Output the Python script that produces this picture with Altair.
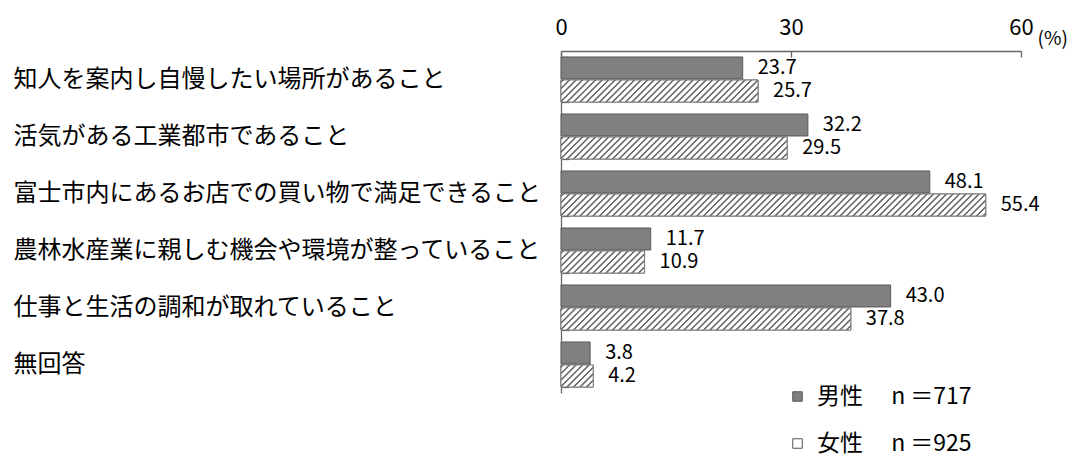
import altair as alt
import pandas as pd

# ---- data ----
categories = [
    "知人を案内し自慢したい場所があること",
    "活気がある工業都市であること",
    "富士市内にあるお店での買い物で満足できること",
    "農林水産業に親しむ機会や環境が整っていること",
    "仕事と生活の調和が取れていること",
    "無回答",
]
male = [23.7, 32.2, 48.1, 11.7, 43.0, 3.8]
female = [25.7, 29.5, 55.4, 10.9, 37.8, 4.2]
series = ["男性", "女性"]
sample_n = [717, 925]
x_ticks = [0, 30, 60]

rows = []
for c, m, f in zip(categories, male, female):
    rows.append({"cat": c, "series": series[0], "value": m})
    rows.append({"cat": c, "series": series[1], "value": f})
df = pd.DataFrame(rows)

# ---- style ----
FONT = "Noto Sans CJK JP"
W, H = 460, 342
X_MAX = 60
PX_PER_UNIT = W / X_MAX
BAR_H = 22.0


def hatch(w, h, period=6.5, line="#6e6e6e", bg="#ffffff"):
    """Diagonal '///' stripes as a linear gradient over a bar of w x h px."""
    S = w + h
    k = S / (w * w + h * h)
    stops = [alt.GradientStop(offset=0, color=bg)]
    c = 2.0
    while c + 1.6 < S:
        for d, col in ((-1.6, bg), (-0.7, line), (0.7, line), (1.6, bg)):
            stops.append(alt.GradientStop(offset=(c + d) / S, color=col))
        c += period
    stops.append(alt.GradientStop(offset=1, color=bg))
    return alt.LinearGradient(gradient="linear", x1=0, y1=0, x2=w * k, y2=h * k, stops=stops)


y_axis = alt.Axis(
    title=None, labelAlign="left", labelBaseline="middle", labelPadding=556,
    labelFontSize=24, labelFont=FONT, labelColor="black", labelLimit=700,
    tickBand="extent", tickSize={"expr": "-8"}, domainColor="#666666",
    tickColor="#666666", domainWidth=1.3, tickWidth=1.3,
)
x_axis = alt.Axis(
    orient="top", values=x_ticks, grid=False, title="(%)", titleX=476, titleY=-13,
    titleAlign="left", titleBaseline="middle", titleAngle=0, titleFontSize=19,
    titleFontWeight="normal", titleFont=FONT, titleColor="black", titleLimit=100,
    labelFontSize=22, labelFont=FONT, labelColor="black", labelPadding=18,
    labelFlush=False, tickSize={"expr": "-6"}, domainColor="#666666",
    tickColor="#666666", domainWidth=1.3, tickWidth=1.3,
)

x_enc = alt.X("value:Q", scale=alt.Scale(domain=[0, X_MAX], nice=False, zero=True), axis=x_axis)
y_enc = alt.Y("cat:N", sort=categories,
              scale=alt.Scale(domain=categories, paddingInner=0.21, paddingOuter=0.105),
              axis=y_axis)
yoff = alt.YOffset("series:N", sort=series,
                   scale=alt.Scale(domain=series, paddingInner=0.045, paddingOuter=0))

label_expr = (
    f"datum.label == '{series[0]}' ? '{series[0]}　 n ＝{sample_n[0]}' : "
    f"'{series[1]}　 n ＝{sample_n[1]}'"
)

base = alt.Chart(df).mark_bar(stroke="#595959", strokeWidth=1).encode(
    x=x_enc, y=y_enc, yOffset=yoff,
    fill=alt.Fill(
        "series:N", sort=series,
        scale=alt.Scale(domain=series, range=["#808080", "#ffffff"]),
        legend=alt.Legend(
            orient="none", legendX=225, legendY=334, title=None, padding=0,
            labelFontSize=23, labelFont=FONT, labelColor="black", labelLimit=400,
            symbolType="square", symbolSize=90, symbolStrokeColor="#555555",
            symbolStrokeWidth=1, rowPadding=23, labelOffset=8,
            labelExpr=label_expr,
        ),
    ),
)

hatch_layers = []
for c, f in zip(categories, female):
    hatch_layers.append(
        alt.Chart(df)
        .transform_filter((alt.datum.cat == c) & (alt.datum.series == series[1]))
        .mark_bar(fill=hatch(f * PX_PER_UNIT, BAR_H), stroke="#7f7f7f", strokeWidth=1)
        .encode(x=x_enc, y=y_enc, yOffset=yoff)
    )

text = alt.Chart(df).mark_text(
    align="left", baseline="middle", dx=15, fontSize=20, font=FONT, color="black"
).encode(x=x_enc, y=y_enc, yOffset=yoff, text=alt.Text("value:Q", format=".1f"))

chart = (
    alt.layer(base, *hatch_layers, text)
    .properties(
        width=W, height=H,
        autosize=alt.AutoSizeParams(type="none"),
        padding={"left": 553, "top": 43, "right": 47, "bottom": 64},
        background="white",
    )
    .configure_view(stroke=None)
)

chart.save("out.html", embed_options={"renderer": "svg", "actions": False})
